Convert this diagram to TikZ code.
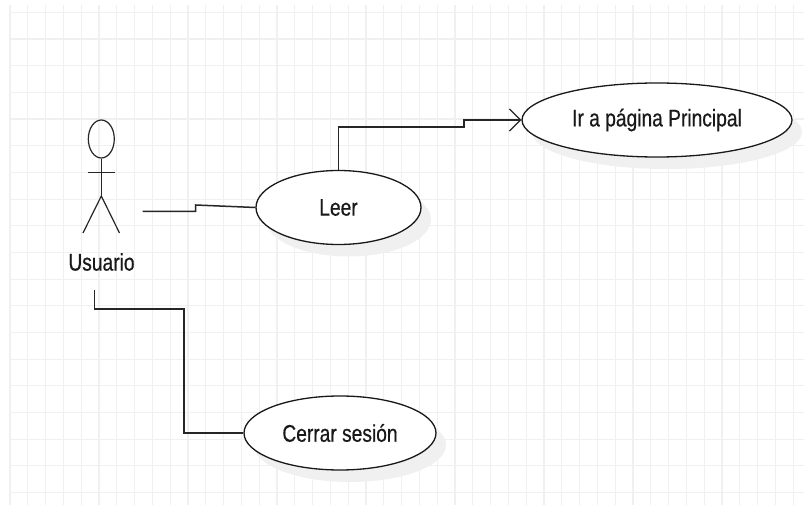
\documentclass[tikz,border=0pt]{standalone}
\usepackage{fontspec}
\setmainfont{Liberation Sans}
\usetikzlibrary{shapes.geometric,shadows,arrows.meta}
\tikzset{
  x=1pt,y=-1pt,
  gridline/.style={draw=black!6,line width=1.1pt},
  usecase/.style={ellipse,draw=black!90,line width=1.3pt,fill=white,inner sep=0pt,minimum height=74pt,
    drop shadow={shadow xshift=10pt,shadow yshift=-12pt,fill=black!6,opacity=1}},
  label text/.style={font=\fontsize{24}{26}\selectfont,text=black!90},
  stick/.style={draw=black!85,line width=1.2pt},
  conn/.style={draw=black!85,line width=1.5pt},
  anchorpt/.style={inner sep=0pt,minimum size=0pt}
}
\newcommand{\lbl}[1]{\scalebox{0.8}[1]{\addfontfeature{FakeBold=0.6}#1}}
\begin{document}
\begin{tikzpicture}
\useasboundingbox (0,0) rectangle (804,505);
\fill[white] (0,0) rectangle (804,505);
% grid
\foreach \i in {0,...,44} {\draw[gridline] ({10+17.8*\i},5) -- ({10+17.8*\i},505);}
\foreach \j in {0,...,18} {\draw[gridline] (10,{12.3+26.68*\j}) -- (804,{12.3+26.68*\j});}
% use cases
\node[usecase,label text,minimum width=165pt] (leer) at (338.5,207.5) {\lbl{Leer}};
\node[usecase,label text,minimum width=270pt] (ir) at (657,120) {\lbl{Ir a página Principal}};
\node[usecase,label text,minimum width=192pt] (cerrar) at (340,433) {\lbl{Cerrar sesión}};
% actor
\node[ellipse,stick,inner sep=0pt,minimum width=26pt,minimum height=38pt] (head) at (101.3,139) {};
\coordinate (neck) at (101.3,158);
\coordinate (hip) at (101.3,196);
\coordinate (armL) at (88,172.5);
\coordinate (armR) at (114.5,172.5);
\coordinate (legL) at (83,233);
\coordinate (legR) at (119.5,233);
\draw[stick] (head.south) -- (hip);
\draw[stick] (armL) -- (armR);
\draw[stick] (legL) -- (hip) -- (legR);
\node[label text,anchorpt] (usuario) at (101.5,262) {\lbl{Usuario}};
% connectors
\coordinate (a1) at (142.5,211.5);
\coordinate (a2) at (94.5,290);
\draw[conn] (a1) -- (195.5,211.5) -- (195.5,205) -- (leer.west);
\draw[conn,-{Straight Barb[length=11pt,width=22pt,line width=1.3pt]}] (leer.north) -- (338.5,127) -- (464,127) -- (464,120) -- (ir.west);
\draw[conn] (a2) -- (94.5,309) -- (184,309) -- (184,433) -- (cerrar.west);
\end{tikzpicture}
\end{document}
